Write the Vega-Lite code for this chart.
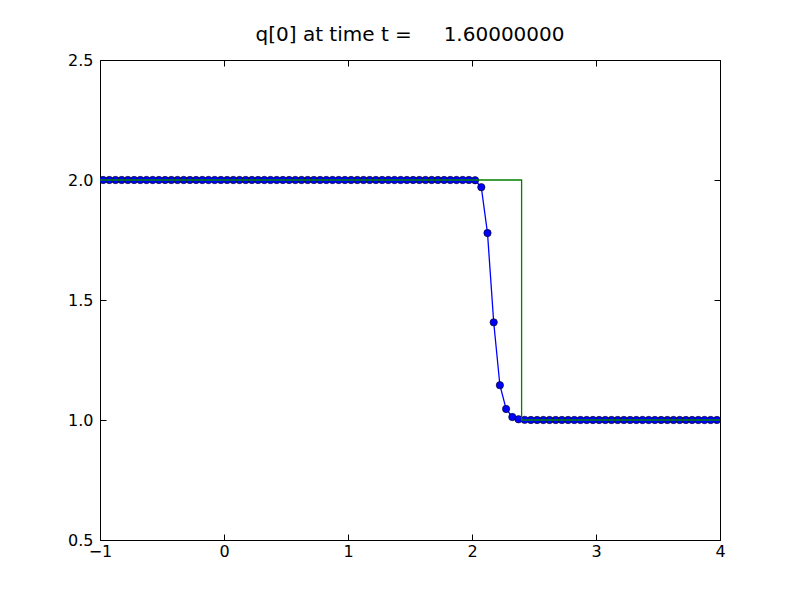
{
  "$schema": "https://vega.github.io/schema/vega-lite/v6.json",
  "autosize": {"type": "none"},
  "padding": {"left": 100, "top": 60, "right": 80, "bottom": 60},
  "width": 620,
  "height": 480,
  "background": "white",
  "title": {"text": "q[0] at time t =\u00a0\u00a0\u00a0\u00a0\u00a01.60000000", "font": "DejaVu Sans", "fontSize": 20, "fontWeight": "normal", "color": "black", "offset": 7},
  "config": {
    "view": {"stroke": "black", "strokeWidth": 1},
    "axis": {"labelFont": "DejaVu Sans", "labelFontSize": 16, "labelColor": "black", "tickColor": "black", "tickSize": -6, "tickWidth": 1, "domain": false, "grid": false, "title": null, "labelFlush": false, "labelOverlap": false}
  },
  "datasets": {
    "num": [
      {"x": -0.975, "q": 2.0}, {"x": -0.925, "q": 2.0}, {"x": -0.875, "q": 2.0}, {"x": -0.825, "q": 2.0}, {"x": -0.775, "q": 2.0},
      {"x": -0.725, "q": 2.0}, {"x": -0.675, "q": 2.0}, {"x": -0.625, "q": 2.0}, {"x": -0.575, "q": 2.0}, {"x": -0.525, "q": 2.0},
      {"x": -0.475, "q": 2.0}, {"x": -0.425, "q": 2.0}, {"x": -0.375, "q": 2.0}, {"x": -0.325, "q": 2.0}, {"x": -0.275, "q": 2.0},
      {"x": -0.225, "q": 2.0}, {"x": -0.175, "q": 2.0}, {"x": -0.125, "q": 2.0}, {"x": -0.075, "q": 2.0}, {"x": -0.025, "q": 2.0},
      {"x": 0.025, "q": 2.0}, {"x": 0.075, "q": 2.0}, {"x": 0.125, "q": 2.0}, {"x": 0.175, "q": 2.0}, {"x": 0.225, "q": 2.0},
      {"x": 0.275, "q": 2.0}, {"x": 0.325, "q": 2.0}, {"x": 0.375, "q": 2.0}, {"x": 0.425, "q": 2.0}, {"x": 0.475, "q": 2.0},
      {"x": 0.525, "q": 2.0}, {"x": 0.575, "q": 2.0}, {"x": 0.625, "q": 2.0}, {"x": 0.675, "q": 2.0}, {"x": 0.725, "q": 2.0},
      {"x": 0.775, "q": 2.0}, {"x": 0.825, "q": 2.0}, {"x": 0.875, "q": 2.0}, {"x": 0.925, "q": 2.0}, {"x": 0.975, "q": 2.0},
      {"x": 1.025, "q": 2.0}, {"x": 1.075, "q": 2.0}, {"x": 1.125, "q": 2.0}, {"x": 1.175, "q": 2.0}, {"x": 1.225, "q": 2.0},
      {"x": 1.275, "q": 2.0}, {"x": 1.325, "q": 2.0}, {"x": 1.375, "q": 2.0}, {"x": 1.425, "q": 2.0}, {"x": 1.475, "q": 2.0},
      {"x": 1.525, "q": 2.0}, {"x": 1.575, "q": 2.0}, {"x": 1.625, "q": 2.0}, {"x": 1.675, "q": 2.0}, {"x": 1.725, "q": 2.0},
      {"x": 1.775, "q": 2.0}, {"x": 1.825, "q": 2.0}, {"x": 1.875, "q": 2.0}, {"x": 1.925, "q": 2.0}, {"x": 1.975, "q": 2.0},
      {"x": 2.025, "q": 1.999}, {"x": 2.075, "q": 1.970}, {"x": 2.125, "q": 1.779}, {"x": 2.175, "q": 1.407}, {"x": 2.225, "q": 1.145},
      {"x": 2.275, "q": 1.046}, {"x": 2.325, "q": 1.0125}, {"x": 2.375, "q": 1.003}, {"x": 2.425, "q": 1.0007}, {"x": 2.475, "q": 1.0},
      {"x": 2.525, "q": 1.0}, {"x": 2.575, "q": 1.0}, {"x": 2.625, "q": 1.0}, {"x": 2.675, "q": 1.0}, {"x": 2.725, "q": 1.0},
      {"x": 2.775, "q": 1.0}, {"x": 2.825, "q": 1.0}, {"x": 2.875, "q": 1.0}, {"x": 2.925, "q": 1.0}, {"x": 2.975, "q": 1.0},
      {"x": 3.025, "q": 1.0}, {"x": 3.075, "q": 1.0}, {"x": 3.125, "q": 1.0}, {"x": 3.175, "q": 1.0}, {"x": 3.225, "q": 1.0},
      {"x": 3.275, "q": 1.0}, {"x": 3.325, "q": 1.0}, {"x": 3.375, "q": 1.0}, {"x": 3.425, "q": 1.0}, {"x": 3.475, "q": 1.0},
      {"x": 3.525, "q": 1.0}, {"x": 3.575, "q": 1.0}, {"x": 3.625, "q": 1.0}, {"x": 3.675, "q": 1.0}, {"x": 3.725, "q": 1.0},
      {"x": 3.775, "q": 1.0}, {"x": 3.825, "q": 1.0}, {"x": 3.875, "q": 1.0}, {"x": 3.925, "q": 1.0}, {"x": 3.975, "q": 1.0}
    ],
    "exact": [
      {"x": -1.0, "q": 2.0, "o": 0},
      {"x": 2.4, "q": 2.0, "o": 1},
      {"x": 2.4, "q": 1.0, "o": 2},
      {"x": 4.0, "q": 1.0, "o": 3}
    ]
  },
  "layer": [
    {
      "data": {"name": "num"},
      "mark": {"type": "line", "color": "#0000ff", "strokeWidth": 1.3, "clip": true},
      "encoding": {
        "x": {"field": "x", "type": "quantitative", "scale": {"domain": [-1, 4], "nice": false, "zero": false}, "axis": {"orient": "bottom", "values": [-1, 0, 1, 2, 3, 4], "format": "d", "labelPadding": 9}},
        "y": {"field": "q", "type": "quantitative", "scale": {"domain": [0.5, 2.5], "nice": false, "zero": false}, "axis": {"orient": "left", "values": [0.5, 1.0, 1.5, 2.0, 2.5], "format": ".1f", "labelPadding": 13}}
      }
    },
    {
      "data": {"name": "num"},
      "mark": {"type": "point", "shape": "circle", "filled": true, "fill": "#0000ff", "stroke": "black", "strokeWidth": 0.6, "opacity": 1, "size": 54, "clip": true},
      "encoding": {
        "x": {"field": "x", "type": "quantitative", "axis": {"orient": "top", "values": [-1, 0, 1, 2, 3, 4], "labels": false}},
        "y": {"field": "q", "type": "quantitative", "axis": {"orient": "right", "values": [0.5, 1.0, 1.5, 2.0, 2.5], "labels": false}}
      }
    },
    {
      "data": {"name": "exact"},
      "mark": {"type": "line", "color": "#008000", "strokeWidth": 1.3, "clip": true},
      "encoding": {
        "x": {"field": "x", "type": "quantitative", "axis": null},
        "y": {"field": "q", "type": "quantitative", "axis": null},
        "order": {"field": "o", "type": "quantitative"}
      }
    }
  ],
  "resolve": {"axis": {"x": "independent", "y": "independent"}}
}
